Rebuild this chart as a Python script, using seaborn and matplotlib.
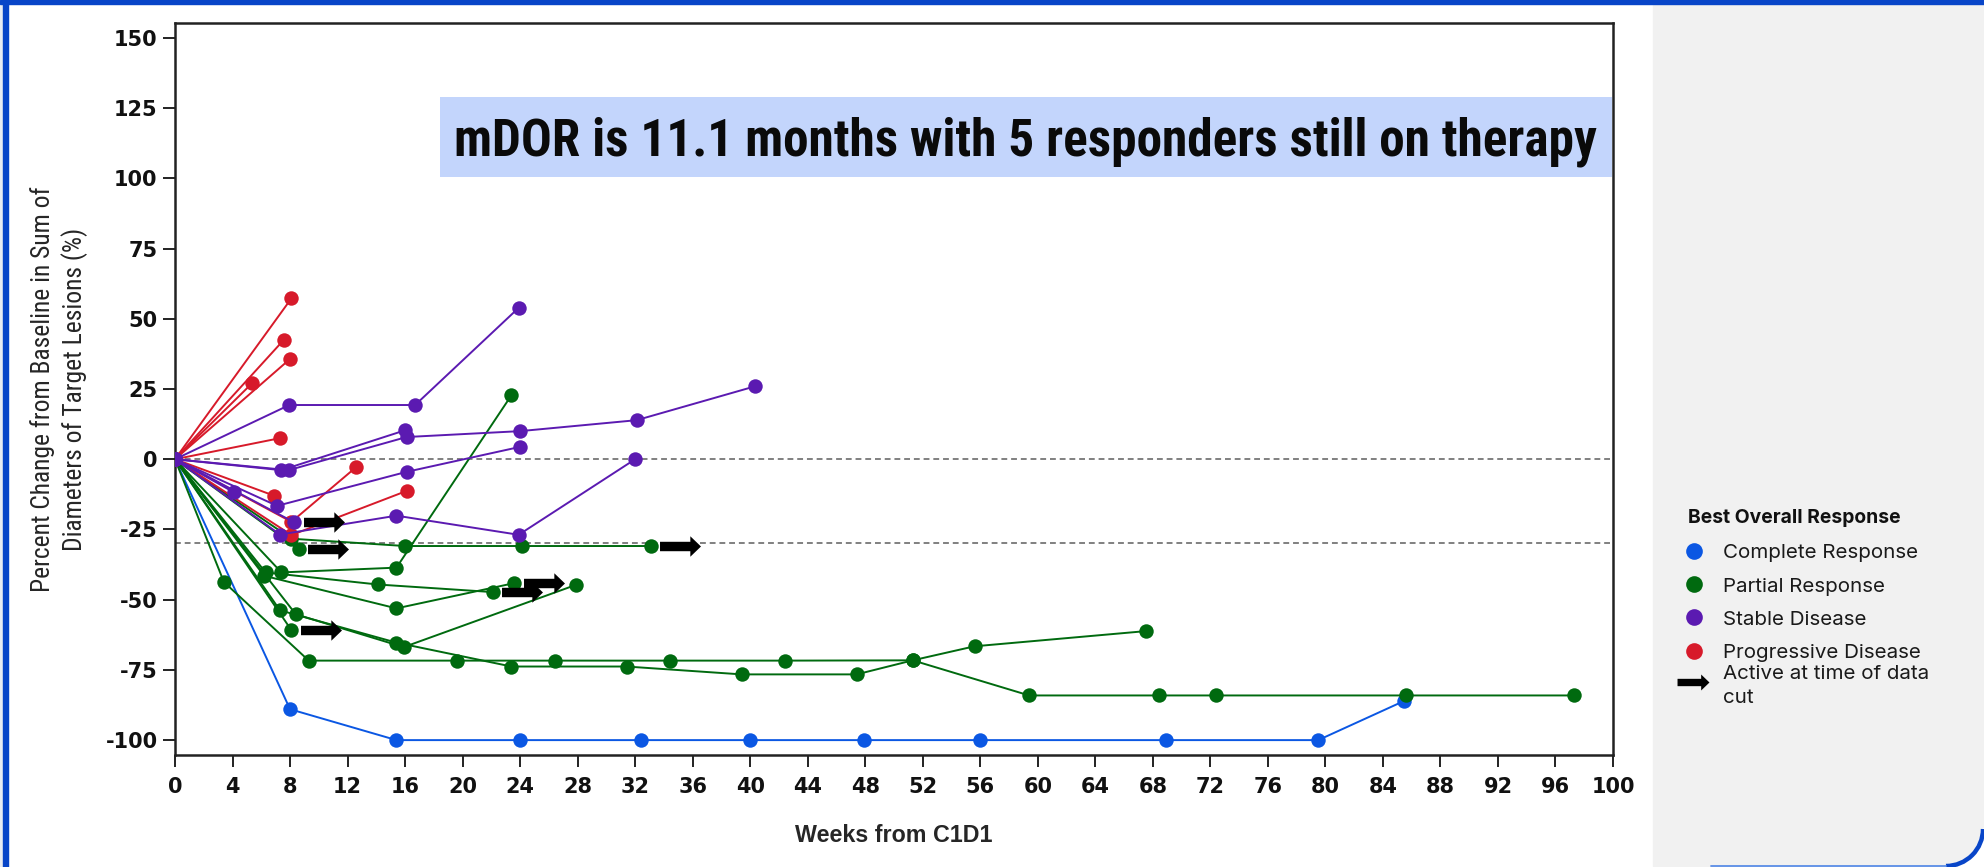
import numpy as np
import pandas as pd
import matplotlib
matplotlib.use("Agg")
import matplotlib.pyplot as plt
import seaborn as sns
from matplotlib.path import Path
from matplotlib.lines import Line2D
from matplotlib.patches import Rectangle, Arc, Polygon
from matplotlib import transforms, font_manager

# ---------------- data ----------------
categories = ["Complete Response", "Partial Response", "Stable Disease", "Progressive Disease"]
draw_order = ["Complete Response", "Partial Response", "Progressive Disease", "Stable Disease"]
colors = ["#0b57e3", "#006a0f", "#5b1ab1", "#d71a2a"]

cr_weeks = [[0, 8.0, 15.4, 24.0, 32.4, 40.0, 47.9, 56.0, 68.9, 79.5, 85.5]]
cr_pct = [[0, -89, -100, -100, -100, -100, -100, -100, -100, -100, -86]]
cr_active = [False]

pr_weeks = [
    [0, 3.4, 9.3, 19.6, 26.4, 34.4, 42.4, 51.3, 55.6, 67.5],
    [0, 7.3, 15.4, 23.4, 31.4, 39.4, 47.4, 51.3, 59.4, 68.4, 72.4, 85.6, 97.3],
    [0, 8.4, 15.9, 27.9],
    [0, 8.1],
    [0, 7.4, 15.4, 23.4],
    [0, 6.3, 14.1, 22.1],
    [0, 6.2, 15.4, 23.6],
    [0, 8.1, 16.0, 24.1, 33.1],
    [0, 8.6],
]
pr_pct = [
    [0, -43.7, -71.7, -71.7, -71.7, -71.7, -71.7, -71.6, -66.6, -61.2],
    [0, -53.8, -65.3, -73.8, -73.8, -76.6, -76.6, -71.6, -84.1, -84.1, -84.1, -84.1, -84.1],
    [0, -55.2, -66.9, -44.7],
    [0, -60.9],
    [0, -40.3, -38.6, 22.8],
    [0, -40.3, -44.6, -47.3],
    [0, -41.5, -53.1, -44.1],
    [0, -28.3, -30.9, -30.9, -30.9],
    [0, -32.0],
]
pr_active = [False, False, False, True, False, True, True, True, True]

sd_weeks = [
    [0, 7.95, 16.7, 23.9],
    [0, 7.4, 16.0],
    [0, 7.9, 16.1, 24.0, 32.1, 40.3],
    [0, 7.1, 16.1, 24.0],
    [0, 4.1],
    [0, 8.3],
    [0, 7.3, 15.4, 23.9, 32.0],
]
sd_pct = [
    [0, 19.3, 19.3, 53.9],
    [0, -3.9, 10.3],
    [0, -3.9, 7.9, 10.0, 13.9, 25.9],
    [0, -16.6, -4.5, 4.4],
    [0, -11.8],
    [0, -22.5],
    [0, -26.8, -20.1, -26.9, 0.0],
]
sd_active = [False, False, False, False, False, True, False]

pd_weeks = [[0, 8.1], [0, 7.55], [0, 8.0], [0, 5.35], [0, 7.3], [0, 6.9], [0, 8.1, 12.6], [0, 8.1, 16.1]]
pd_pct = [[0, 57.3], [0, 42.4], [0, 35.7], [0, 27.0], [0, 7.5], [0, -13.0], [0, -22.3, -2.8], [0, -27.0, -11.3]]
pd_active = [False] * 8

x_ticks = list(range(0, 101, 4))
y_ticks = list(range(-100, 151, 25))
ref_lines = [0, -30]
title_text = "mDOR is 11.1 months with 5 responders still on therapy"
x_label = "Weeks from C1D1"
y_label = "Percent Change from Baseline in Sum of\nDiameters of Target Lesions (%)"
legend_title = "Best Overall Response"
active_label = "Active at time of data\ncut"

# ---------------- long-form table ----------------
groups = {
    "Complete Response": (cr_weeks, cr_pct, cr_active),
    "Partial Response": (pr_weeks, pr_pct, pr_active),
    "Stable Disease": (sd_weeks, sd_pct, sd_active),
    "Progressive Disease": (pd_weeks, pd_pct, pd_active),
}
rows = []
last_pts = []
for cat, (wl, pl, al) in groups.items():
    for i, (w, p, a) in enumerate(zip(wl, pl, al)):
        pid = f"{cat}-{i}"
        for wk, pc in zip(w, p):
            rows.append({"patient": pid, "response": cat, "week": wk, "pct": pc})
        if a:
            last_pts.append((w[-1], p[-1]))
df = pd.DataFrame(rows)
palette = dict(zip(categories, colors))

# ---------------- fonts ----------------
avail = {f.name for f in font_manager.fontManager.ttflist}
def pick(*names):
    for n in names:
        if n in avail:
            return n
    return "DejaVu Sans"
narrow = pick("Liberation Sans Narrow", "Roboto Condensed", "DejaVu Sans Condensed", "Roboto", "Liberation Sans")
legfont = pick("Inter", "Roboto", "DejaVu Sans")
labfont = pick("Liberation Sans", "Roboto", "DejaVu Sans")

sns.set_style("white")
plt.rcParams["font.family"] = ["DejaVu Sans"]

W, H = 1984, 867
def fx(px):
    return px / W
def fy(py):
    return 1 - py / H

fig = plt.figure(figsize=(W / 100, H / 100), dpi=100)
fig.patch.set_facecolor("white")
ax = fig.add_axes([fx(175), fy(755), fx(1613) - fx(175), fy(23) - fy(755)])

# decorative frame
ident = transforms.IdentityTransform()
fig.add_artist(Rectangle((0, 0), 3, H, transform=ident, color="#e9ecf3", zorder=0))
fig.add_artist(Rectangle((1653, 1), W - 1653, H - 5, transform=ident, color="#f1f1f1", zorder=0))
fig.add_artist(Rectangle((3, 0), 5, H, transform=ident, color="#0845c8", zorder=3))
fig.add_artist(Rectangle((0, H - 3.5), W, 3.5, transform=ident, color="#0845c8", zorder=3))
cx, cy, r = 1946, 38, 37
ang = np.linspace(0, -np.pi / 2, 30)
corner = [(W + 2, -2), (W + 2, cy)] + [(cx + r * np.cos(t), cy + r * np.sin(t)) for t in ang] + [(cx, -2)]
fig.add_artist(Polygon(corner, closed=True, transform=ident, color="white", zorder=2))
fig.add_artist(Arc((cx, cy), 2 * r, 2 * r, theta1=270, theta2=360, transform=ident,
                   color="#0845c8", lw=3.2, zorder=3))
fig.add_artist(Line2D([1711, cx], [1.2, 1.2], transform=ident, color="#5a8de6", lw=1.3, zorder=3))

# ---------------- data lines ----------------
for y0 in ref_lines:
    ax.axhline(y0, color="#808080", lw=1.4, ls=(0, (3, 2)), zorder=1)

sns.lineplot(data=df, x="week", y="pct", hue="response", units="patient", estimator=None,
             hue_order=draw_order, palette=palette, sort=False, marker="o", markersize=10.4,
             markeredgewidth=0, linewidth=1.4, legend=False, ax=ax, zorder=3)

arrow_marker = Path([(-1, -0.23), (0.48, -0.23), (0.48, -0.5), (1, 0), (0.48, 0.5), (0.48, 0.23),
                     (-1, 0.23), (-1, -0.23)],
                    [Path.MOVETO] + [Path.LINETO] * 6 + [Path.CLOSEPOLY])
arr_tr = transforms.offset_copy(ax.transData, fig=fig, x=29.5, y=0, units="dots")
ax.plot([p[0] for p in last_pts], [p[1] for p in last_pts], ls="none", marker=arrow_marker,
        ms=29.5, color="black", mew=0, transform=arr_tr, zorder=6, clip_on=False)

# ---------------- axes styling ----------------
ax.set_xlim(0, 100)
ax.set_ylim(-105.3, 155.3)
ax.set_xticks(x_ticks, labels=[str(t) for t in x_ticks], fontweight="bold", fontsize=15)
ax.set_yticks(y_ticks, labels=[str(t) for t in y_ticks], fontweight="bold", fontsize=15)
ax.tick_params(axis="both", direction="out", length=8.5, width=1.4, color="#222222",
               bottom=True, left=True, labelcolor="#111111")
ax.tick_params(axis="x", pad=7)
ax.tick_params(axis="y", pad=4)
for s in ax.spines.values():
    s.set_visible(True)
    s.set_color("#222222")
    s.set_linewidth(1.8)

ax.set_xlabel(x_label, fontfamily=labfont, fontweight="bold", fontsize=15.5, va="baseline")
ax.xaxis.set_label_coords(0.5, (755 - 842) / 732)
ax.set_ylabel(y_label, fontfamily=narrow, fontsize=17, linespacing=1.3)
ax.yaxis.set_label_coords((88 - 175) / 1438, 0.5)

# title box
ax.add_patch(Rectangle((0.1843, 0.7896), 0.815, 0.1096, transform=ax.transAxes,
                       color="#c3d5fc", zorder=0.5, lw=0))
ttl = ax.text((1025 - 175) / 1438, (755 - 155.7) / 732, title_text, transform=ax.transAxes,
              ha="center", va="baseline", fontfamily=narrow, fontweight="bold", fontsize=28,
              color="#0a0a0a", zorder=2)

# ---------------- legend (in grey panel) ----------------
fig.text(fx(1688), fy(523), legend_title, fontfamily=legfont, fontweight="bold", fontsize=13.9,
         va="baseline", ha="left", color="#111111")
for i, (cat, col) in enumerate(zip(categories, colors)):
    yc = 551 + 33.2 * i
    fig.add_artist(Line2D([fx(1694)], [fy(yc)], marker="o", ms=12, color=col, mew=0,
                          ls="none", transform=fig.transFigure))
    fig.text(fx(1723), fy(yc + 7.4), cat, fontfamily=legfont, fontsize=14.8, va="baseline",
             ha="left", color="#1a1a1a")
fig.add_artist(Line2D([fx(1692.5)], [fy(682)], marker=arrow_marker, ms=23, color="black",
                      mew=0, ls="none", transform=fig.transFigure))
fig.text(fx(1723), fy(703), active_label, fontfamily=legfont, fontsize=14.8, va="baseline",
         ha="left", color="#1a1a1a", linespacing=1.42)

# ---------------- fit text widths ----------------
fig.canvas.draw()
rend = fig.canvas.get_renderer()
w = ttl.get_window_extent(rend).width
ttl.set_fontsize(28 * 1144 / w)
yl = ax.yaxis.label
h = yl.get_window_extent(rend).height
yl.set_fontsize(17 * 406 / h)
xl = ax.xaxis.label
w = xl.get_window_extent(rend).width
xl.set_fontsize(15.5 * 198 / w)

fig.savefig("out.png", dpi=100, facecolor="white")
